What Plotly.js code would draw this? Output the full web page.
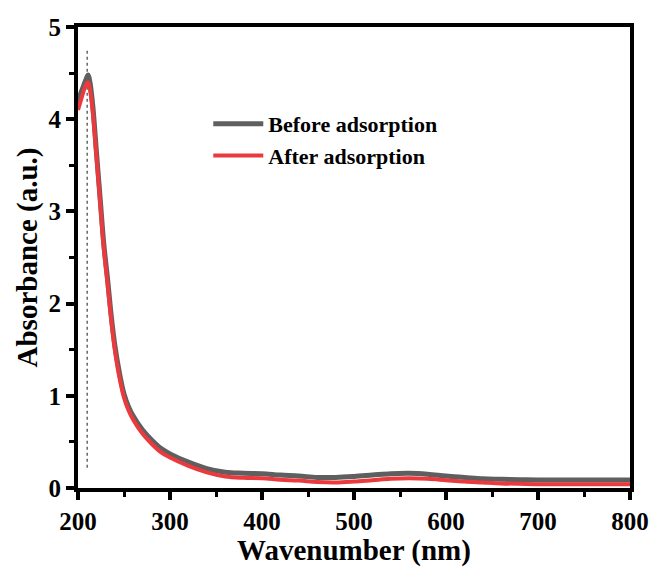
<!DOCTYPE html>
<html>
<head>
<meta charset="utf-8">
<script src="https://cdn.plot.ly/plotly-3.0.1.min.js"></script>
<style>html,body{margin:0;padding:0;background:#fff;}#chart{width:653px;height:567px;}</style>
</head>
<body>
<div id="chart"></div>
<script>
const wavelength = [200,203,206,209,211,213,216,220,224,228,232,236,240,245,250,255,260,270,280,290,300,320,340,360,380,400,420,440,460,480,500,520,540,560,580,600,620,640,660,680,700,750,800];
const before = [4.18,4.28,4.36,4.44,4.48,4.40,4.15,3.65,3.15,2.65,2.28,1.88,1.55,1.25,1.02,0.88,0.78,0.63,0.52,0.43,0.37,0.28,0.21,0.17,0.16,0.155,0.14,0.13,0.115,0.115,0.125,0.14,0.155,0.16,0.15,0.13,0.115,0.10,0.095,0.09,0.088,0.087,0.087];
const after = [4.10,4.20,4.30,4.38,4.40,4.32,4.08,3.60,3.10,2.60,2.22,1.83,1.50,1.20,0.98,0.84,0.74,0.59,0.48,0.39,0.33,0.24,0.17,0.125,0.11,0.105,0.09,0.08,0.065,0.06,0.07,0.085,0.10,0.105,0.10,0.085,0.07,0.06,0.05,0.045,0.042,0.04,0.04];
const peakX = [210,210];
const peakY = [0.22,4.76];
const seriesNames = ["Before adsorption","After adsorption"];
const xTicks = [200,300,400,500,600,700,800];
const yTicks = [0,1,2,3,4,5];

const font = "Liberation Serif, Times New Roman, serif";
const traces = [
  {x: peakX, y: peakY, mode: "lines", line: {color: "#666", width: 1.5, dash: "dot"}, showlegend: false, hoverinfo: "skip"},
  {x: wavelength, y: before, name: seriesNames[0], mode: "lines", line: {color: "#5f5f5f", width: 5, shape: "spline"}},
  {x: wavelength, y: after, name: seriesNames[1], mode: "lines", line: {color: "#eb3a3e", width: 4, shape: "spline"}}
];
const axisCommon = {
  showgrid: false, zeroline: false, showline: true, linecolor: "#000", linewidth: 4, mirror: true,
  ticks: "outside", ticklen: 8, tickwidth: 4, tickcolor: "#000",
  minor: {ticks: "outside", ticklen: 5, tickwidth: 3, tickcolor: "#000", showgrid: false}
};
const layout = {
  width: 653, height: 567,
  margin: {l: 78, r: 23, t: 27, b: 79},
  paper_bgcolor: "#fff", plot_bgcolor: "#fff",
  font: {family: font, color: "#000"},
  xaxis: Object.assign({}, axisCommon, {
    range: [200, 800], tickvals: xTicks, ticktext: xTicks.map(String),
    tickfont: {family: font, size: 25, color: "#000", weight: "bold"},
    minor: Object.assign({}, axisCommon.minor, {dtick: 50, tick0: 200}),
    title: {text: "Wavenumber (nm)", font: {family: font, size: 29, color: "#000", weight: "bold"}, standoff: 7}
  }),
  yaxis: Object.assign({}, axisCommon, {
    range: [0, 5], tickvals: yTicks, ticktext: yTicks.map(String),
    tickfont: {family: font, size: 25, color: "#000", weight: "bold"},
    minor: Object.assign({}, axisCommon.minor, {dtick: 0.5, tick0: 0}),
    title: {text: "Absorbance (a.u.)", font: {family: font, size: 29, color: "#000", weight: "bold"}, standoff: 3}
  }),
  legend: {x: 0.236, y: 0.835, xanchor: "left", yanchor: "top", bgcolor: "rgba(0,0,0,0)",
    font: {family: font, size: 22, color: "#000", weight: "bold"}, tracegroupgap: 0, itemwidth: 50},
  showlegend: true
};
Plotly.newPlot("chart", traces, layout, {displayModeBar: false, staticPlot: true});
</script>
</body>
</html>
